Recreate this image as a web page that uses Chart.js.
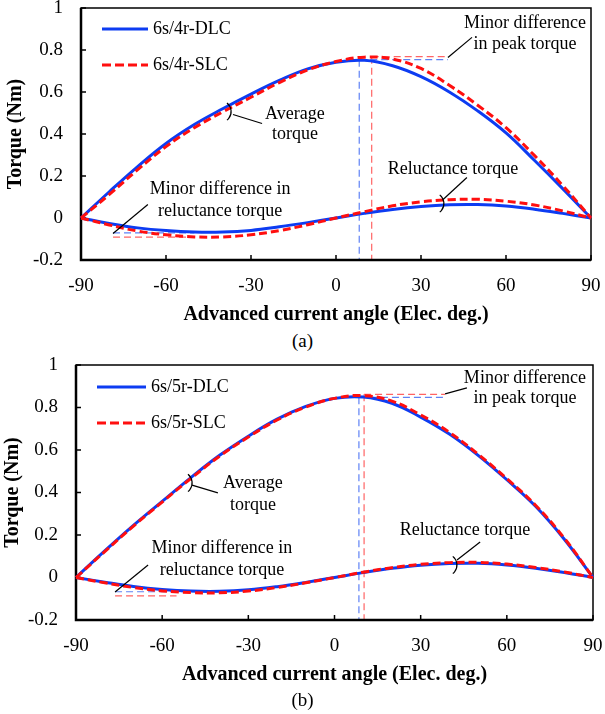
<!DOCTYPE html>
<html>
<head>
<meta charset="utf-8">
<script src="https://cdn.jsdelivr.net/npm/chart.js@4.4.1/dist/chart.umd.min.js"></script>
<style>
  body { margin: 0; background: #fff; }
  #wrap { position: relative; width: 605px; height: 714px; }
  canvas { position: absolute; left: 0; }
  .cap { position: absolute; left: 0; width: 605px; text-align: center; line-height: 22px;
         font: 19px "Liberation Serif", "Times New Roman", serif; color: #000; }
</style>
</head>
<body>
<div id="wrap">
  <canvas id="chartA" width="605" height="330" style="top:0"></canvas>
  <div class="cap" style="top:330px">(a)</div>
  <canvas id="chartB" width="605" height="340" style="top:355px"></canvas>
  <div class="cap" style="top:689px">(b)</div>
</div>
<script>
// advanced current angle (elec. deg.)
var angles = [-90, -80, -70, -60, -50, -40, -30, -20, -10, 0, 10, 20, 30, 40, 50, 60, 70, 80, 90];

// (a) 6s/4r
var avgDlcA = [0, 0.125, 0.245, 0.355, 0.445, 0.52, 0.59, 0.655, 0.71, 0.742, 0.751, 0.725, 0.673, 0.6, 0.51, 0.405, 0.275, 0.14, 0];
var avgSlcA = [0, 0.112, 0.23, 0.34, 0.43, 0.505, 0.575, 0.645, 0.705, 0.745, 0.766, 0.757, 0.712, 0.632, 0.537, 0.43, 0.298, 0.155, 0];
var relDlcA = [0, -0.026, -0.047, -0.06, -0.067, -0.067, -0.059, -0.042, -0.022, 0, 0.022, 0.041, 0.055, 0.063, 0.064, 0.057, 0.042, 0.022, 0];
var relSlcA = [0, -0.033, -0.062, -0.08, -0.09, -0.09, -0.08, -0.06, -0.032, 0, 0.03, 0.058, 0.077, 0.087, 0.089, 0.08, 0.062, 0.034, 0];

// (b) 6s/5r
var avgDlcB = [0, 0.125, 0.245, 0.358, 0.47, 0.575, 0.665, 0.745, 0.805, 0.843, 0.849, 0.82, 0.755, 0.675, 0.575, 0.46, 0.335, 0.18, 0];
var avgSlcB = [0, 0.122, 0.242, 0.355, 0.466, 0.571, 0.661, 0.741, 0.802, 0.843, 0.856, 0.83, 0.765, 0.683, 0.58, 0.465, 0.34, 0.185, 0];
var relDlcB = [0, -0.022, -0.042, -0.056, -0.064, -0.065, -0.058, -0.043, -0.023, 0, 0.023, 0.043, 0.058, 0.066, 0.067, 0.059, 0.044, 0.024, 0];
var relSlcB = [0, -0.025, -0.047, -0.063, -0.071, -0.072, -0.064, -0.047, -0.025, 0, 0.025, 0.046, 0.062, 0.07, 0.071, 0.063, 0.047, 0.026, 0];

var xTicks = [-90, -60, -30, 0, 30, 60, 90];
var yTicks = [-0.2, 0, 0.2, 0.4, 0.6, 0.8, 1];

var BLUE = "#0d3cf2";
var RED = "#ff0f0f";
var LBLUE = "#5f82f5";
var LRED = "#ff6464";
var FONT = '"Liberation Serif", "Times New Roman", serif';

function pts(vals) {
  return angles.map(function (a, i) { return { x: a, y: vals[i] }; });
}

function line(label, vals, color, dashed) {
  return {
    label: label,
    data: pts(vals),
    borderColor: color,
    backgroundColor: color,
    borderWidth: 3,
    borderDash: dashed ? [8, 4] : [],
    pointRadius: 0,
    tension: 0.4,
    fill: false,
    clip: false,
    order: dashed ? 0 : 1,
  };
}

function tickText(v) {
  var r = Math.round(v * 10) / 10;
  if (Math.abs(r) < 1e-9) r = 0;
  return String(r);
}

// frame, inward ticks, guides, notes and legend
var decor = {
  id: "decor",
  beforeDatasetsDraw: function (chart, args, o) {
    var ctx = chart.ctx, a = chart.chartArea;
    var X = function (v) { return chart.scales.x.getPixelForValue(v); };
    var Y = function (v) { return chart.scales.y.getPixelForValue(v); };
    ctx.save();
    ctx.lineWidth = 1.2;
    ctx.setLineDash([7, 4]);
    o.guides.forEach(function (g) {
      ctx.strokeStyle = g.color;
      ctx.beginPath();
      ctx.moveTo(X(g.p[0][0]), Y(g.p[0][1]));
      ctx.lineTo(X(g.p[1][0]), Y(g.p[1][1]));
      ctx.stroke();
    });
    ctx.setLineDash([]);
    ctx.strokeStyle = "#000";
    ctx.lineWidth = 1.5;
    ctx.strokeRect(a.left, a.top, a.right - a.left, a.bottom - a.top);
    ctx.lineWidth = 2.5;
    ctx.beginPath();
    ctx.moveTo(a.left, a.top);
    ctx.lineTo(a.left, a.bottom);
    ctx.lineTo(a.right, a.bottom);
    ctx.stroke();
    ctx.lineWidth = 1.5;
    ctx.beginPath();
    xTicks.forEach(function (t) { ctx.moveTo(X(t), a.bottom); ctx.lineTo(X(t), a.bottom - 5); });
    yTicks.forEach(function (t) { ctx.moveTo(a.left, Y(t)); ctx.lineTo(a.left + 5, Y(t)); });
    ctx.stroke();
    ctx.restore();
  },
  afterDatasetsDraw: function (chart, args, o) {
    var ctx = chart.ctx, a = chart.chartArea;
    var X = function (v) { return chart.scales.x.getPixelForValue(v); };
    var Y = function (v) { return chart.scales.y.getPixelForValue(v); };
    ctx.save();
    ctx.strokeStyle = "#000";
    ctx.lineWidth = 1.2;
    o.leaders.forEach(function (l) {
      ctx.beginPath();
      ctx.moveTo(X(l[0][0]), Y(l[0][1]));
      ctx.lineTo(X(l[1][0]), Y(l[1][1]));
      ctx.stroke();
    });
    o.arcs.forEach(function (c) {
      ctx.beginPath();
      ctx.arc(X(c[0]), Y(c[1]), 11, -0.9, 0.9);
      ctx.stroke();
    });
    ctx.fillStyle = "#000";
    ctx.font = "18px " + FONT;
    ctx.textAlign = "center";
    ctx.textBaseline = "middle";
    o.notes.forEach(function (n) { ctx.fillText(n[0], X(n[1]), Y(n[2])); });

    // legend
    ctx.textAlign = "left";
    chart.data.datasets.slice(0, 2).forEach(function (d, i) {
      var yy = a.top + o.legend.dy + i * 36;
      var x0 = a.left + o.legend.dx;
      ctx.strokeStyle = d.borderColor;
      ctx.lineWidth = 3;
      ctx.setLineDash(d.borderDash.length ? [9, 4] : []);
      ctx.beginPath();
      ctx.moveTo(x0, yy);
      ctx.lineTo(x0 + o.legend.len, yy);
      ctx.stroke();
      ctx.setLineDash([]);
      ctx.fillText(d.label, x0 + o.legend.len + 5, yy);
    });
    ctx.restore();
  },
};

function makeChart(id, names, series, pad, yWidth, xHeight, titlePadX, titlePadY, deco) {
  return new Chart(document.getElementById(id).getContext("2d"), {
    type: "line",
    data: {
      datasets: [
        line(names[0], series[0], BLUE, false),
        line(names[1], series[1], RED, true),
        line(names[0], series[2], BLUE, false),
        line(names[1], series[3], RED, true),
      ],
    },
    options: {
      responsive: false,
      animation: false,
      layout: { padding: pad },
      plugins: {
        legend: { display: false },
        tooltip: { enabled: false },
        decor: deco,
      },
      scales: {
        x: {
          type: "linear",
          min: -90,
          max: 90,
          grid: { display: false, drawTicks: false },
          border: { display: false },
          ticks: { stepSize: 30, padding: 14.5, color: "#000", font: { family: FONT, size: 19 } },
          title: {
            display: true,
            text: "Advanced current angle (Elec. deg.)",
            color: "#000",
            font: { family: FONT, size: 20, weight: "bold" },
            padding: { top: 0, bottom: titlePadX },
          },
          afterFit: function (s) { s.height = xHeight; s.paddingLeft = 0; s.paddingRight = 0; },
        },
        y: {
          min: -0.2,
          max: 1,
          grid: { display: false, drawTicks: false },
          border: { display: false },
          ticks: { stepSize: 0.2, padding: 18, color: "#000", font: { family: FONT, size: 19 }, callback: tickText },
          title: {
            display: true,
            text: "Torque (Nm)",
            color: "#000",
            font: { family: FONT, size: 20, weight: "bold" },
            padding: { top: titlePadY, bottom: 0 },
          },
          afterFit: function (s) { s.width = yWidth; s.paddingTop = 0; s.paddingBottom = 0; },
        },
      },
    },
    plugins: [decor],
  });
}

makeChart("chartA", ["6s/4r-DLC", "6s/4r-SLC"], [avgDlcA, avgSlcA, relDlcA, relSlcA],
  { top: 8, right: 14, left: 0, bottom: 0 }, 81, 70, 3, 4, {
    legend: { dx: 21, dy: 21, len: 46 },
    guides: [
      { color: LBLUE, p: [[8.2, 0.754], [8.2, -0.2]] },
      { color: LRED, p: [[12.6, 0.768], [12.6, -0.2]] },
      { color: LBLUE, p: [[8.2, 0.754], [39.5, 0.754]] },
      { color: LRED, p: [[12.6, 0.768], [39.5, 0.768]] },
      { color: LBLUE, p: [[-78.7, -0.0705], [-50, -0.0705]] },
      { color: LRED, p: [[-78.7, -0.0914], [-50, -0.0914]] },
    ],
    leaders: [
      [[39.5, 0.764], [48.0, 0.86]],
      [[-36.35, 0.493], [-26.1, 0.45]],
      [[37.8, 0.088], [46.2, 0.193]],
      [[-78.7, -0.074], [-66.4, 0.064]],
    ],
    arcs: [[-40.9, 0.507], [34.2, 0.069]],
    notes: [
      ["Minor difference", 66.7, 0.926],
      ["in peak torque", 66.7, 0.826],
      ["Average", -14.5, 0.493],
      ["torque", -14.5, 0.398],
      ["Reluctance torque", 41.3, 0.231],
      ["Minor difference in", -40.9, 0.136],
      ["reluctance torque", -40.9, 0.031],
    ],
  });

makeChart("chartB", ["6s/5r-DLC", "6s/5r-SLC"], [avgDlcB, avgSlcB, relDlcB, relSlcB],
  { top: 10, right: 12, left: 0, bottom: 0 }, 76, 75, 8, 1, {
    legend: { dx: 21, dy: 22, len: 49 },
    guides: [
      { color: LBLUE, p: [[8.5, 0.848], [8.5, -0.2]] },
      { color: LRED, p: [[10.3, 0.862], [10.3, -0.2]] },
      { color: LBLUE, p: [[8.5, 0.848], [38.5, 0.848]] },
      { color: LRED, p: [[10.3, 0.862], [38.5, 0.862]] },
      { color: LBLUE, p: [[-76.4, -0.067], [-45, -0.067]] },
      { color: LRED, p: [[-76.4, -0.086], [-55, -0.086]] },
    ],
    leaders: [
      [[38.5, 0.864], [46.1, 0.892]],
      [[-49.6, 0.435], [-40.6, 0.398]],
      [[42.65, 0.082], [50.7, 0.167]],
      [[-76.4, -0.068], [-64.9, 0.059]],
    ],
    arcs: [[-53.4, 0.445], [38.8, 0.059]],
    notes: [
      ["Minor difference", 66.3, 0.939],
      ["in peak torque", 66.3, 0.845],
      ["Average", -28.4, 0.445],
      ["torque", -28.4, 0.341],
      ["Reluctance torque", 45.4, 0.224],
      ["Minor difference in", -39.2, 0.139],
      ["reluctance torque", -39.2, 0.035],
    ],
  });
</script>
</body>
</html>
